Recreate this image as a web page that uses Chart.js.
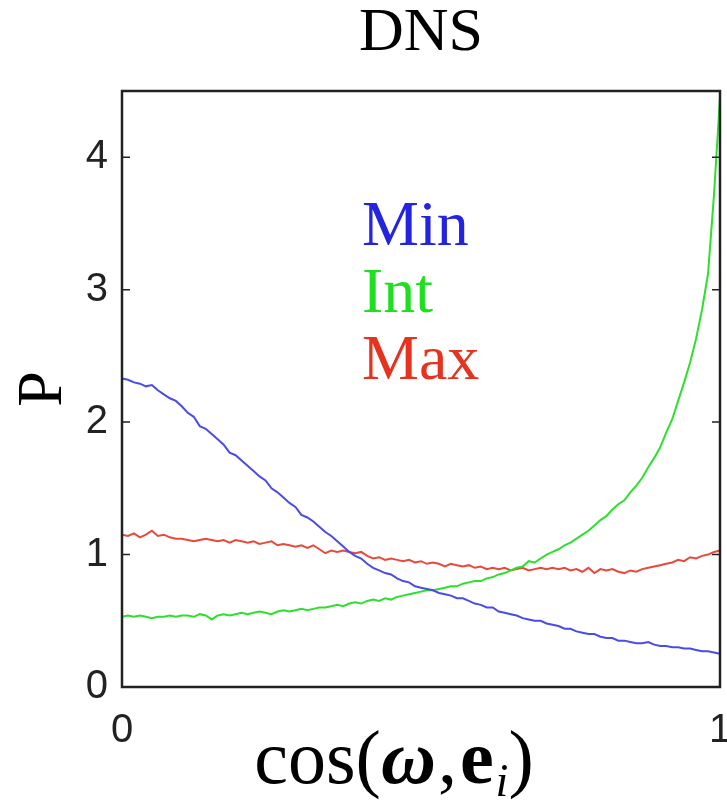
<!DOCTYPE html>
<html>
<head>
<meta charset="utf-8">
<script src="https://cdn.jsdelivr.net/npm/chart.js@4.4.1/dist/chart.umd.min.js"></script>
<style>
  html, body { margin: 0; padding: 0; background: #fff; }
  #wrap { width: 727px; height: 800px; }
</style>
</head>
<body>
<div id="wrap"><canvas id="chart" width="727" height="800"></canvas></div>
<script>
// cos(omega, e_i) sample positions
const cosValues = [
  0.00, 0.01, 0.02, 0.03, 0.04, 0.05, 0.06, 0.07, 0.08, 0.09,
  0.10, 0.11, 0.12, 0.13, 0.14, 0.15, 0.16, 0.17, 0.18, 0.19,
  0.20, 0.21, 0.22, 0.23, 0.24, 0.25, 0.26, 0.27, 0.28, 0.29,
  0.30, 0.31, 0.32, 0.33, 0.34, 0.35, 0.36, 0.37, 0.38, 0.39,
  0.40, 0.41, 0.42, 0.43, 0.44, 0.45, 0.46, 0.47, 0.48, 0.49,
  0.50, 0.51, 0.52, 0.53, 0.54, 0.55, 0.56, 0.57, 0.58, 0.59,
  0.60, 0.61, 0.62, 0.63, 0.64, 0.65, 0.66, 0.67, 0.68, 0.69,
  0.70, 0.71, 0.72, 0.73, 0.74, 0.75, 0.76, 0.77, 0.78, 0.79,
  0.80, 0.81, 0.82, 0.83, 0.84, 0.85, 0.86, 0.87, 0.88, 0.89,
  0.90, 0.91, 0.92, 0.93, 0.94, 0.95, 0.96, 0.97, 0.98, 0.99,
  1.00
];

const minValues = [
  2.33, 2.32, 2.30, 2.29, 2.27, 2.28, 2.24, 2.21, 2.18, 2.16,
  2.12, 2.07, 2.04, 1.97, 1.95, 1.91, 1.87, 1.83, 1.77, 1.75,
  1.71, 1.67, 1.63, 1.59, 1.56, 1.50, 1.47, 1.43, 1.39, 1.36,
  1.30, 1.28, 1.25, 1.21, 1.17, 1.14, 1.10, 1.06, 1.02, 0.99,
  0.97, 0.93, 0.90, 0.88, 0.86, 0.85, 0.82, 0.80, 0.79, 0.76,
  0.75, 0.74, 0.73, 0.71, 0.70, 0.69, 0.67, 0.67, 0.65, 0.63,
  0.62, 0.60, 0.60, 0.57, 0.56, 0.55, 0.54, 0.52, 0.51, 0.50,
  0.50, 0.48, 0.47, 0.46, 0.44, 0.44, 0.42, 0.41, 0.40, 0.40,
  0.38, 0.37, 0.37, 0.35, 0.35, 0.34, 0.33, 0.33, 0.34, 0.32,
  0.31, 0.31, 0.30, 0.30, 0.29, 0.29, 0.28, 0.27, 0.27, 0.26,
  0.25
];

const intValues = [
  0.53, 0.54, 0.53, 0.54, 0.53, 0.52, 0.53, 0.53, 0.54, 0.53,
  0.54, 0.54, 0.53, 0.55, 0.54, 0.51, 0.54, 0.55, 0.54, 0.55,
  0.56, 0.55, 0.56, 0.57, 0.56, 0.55, 0.57, 0.58, 0.57, 0.58,
  0.59, 0.58, 0.59, 0.60, 0.60, 0.61, 0.62, 0.61, 0.63, 0.64,
  0.63, 0.65, 0.66, 0.65, 0.67, 0.66, 0.68, 0.69, 0.70, 0.71,
  0.72, 0.73, 0.73, 0.74, 0.75, 0.76, 0.76, 0.78, 0.79, 0.80,
  0.80, 0.82, 0.83, 0.85, 0.86, 0.88, 0.90, 0.91, 0.95, 0.94,
  0.97, 1.00, 1.02, 1.04, 1.07, 1.09, 1.12, 1.15, 1.18, 1.22,
  1.26, 1.29, 1.34, 1.38, 1.41, 1.47, 1.52, 1.58, 1.66, 1.73,
  1.81, 1.92, 2.02, 2.16, 2.30, 2.45, 2.63, 2.85, 3.12, 3.72,
  4.45
];

const maxValues = [
  1.15, 1.14, 1.16, 1.13, 1.15, 1.18, 1.14, 1.15, 1.13, 1.12,
  1.12, 1.11, 1.10, 1.11, 1.12, 1.11, 1.10, 1.11, 1.09, 1.11,
  1.10, 1.09, 1.10, 1.08, 1.09, 1.10, 1.07, 1.08, 1.07, 1.06,
  1.07, 1.05, 1.07, 1.04, 1.01, 1.03, 1.02, 1.03, 1.02, 1.01,
  1.02, 0.99, 0.97, 0.98, 0.96, 0.97, 0.96, 0.95, 0.96, 0.94,
  0.95, 0.93, 0.94, 0.93, 0.91, 0.93, 0.92, 0.91, 0.92, 0.90,
  0.91, 0.89, 0.90, 0.89, 0.90, 0.88, 0.89, 0.90, 0.88, 0.89,
  0.90, 0.89, 0.90, 0.89, 0.90, 0.88, 0.89, 0.87, 0.90, 0.86,
  0.89, 0.88, 0.89, 0.87, 0.86, 0.88, 0.87, 0.89, 0.90, 0.91,
  0.92, 0.93, 0.94, 0.96, 0.95, 0.98, 0.97, 0.99, 1.00, 1.02,
  1.03
];

const seriesNames = ['Min', 'Int', 'Max'];
const lineColors = ['#4b4be6', '#2ee02e', '#e84a3a'];
const textColors = ['#2424e0', '#1fe01f', '#e5331f'];
const yTickValues = [0, 1, 2, 3, 4];
const xTickValues = [0, 1];

const SERIF = '"Liberation Serif", "Times New Roman", serif';
const SANS = '"Liberation Sans", Arial, sans-serif';

function toPoints(ys) {
  return cosValues.map((x, i) => ({ x: x, y: ys[i] }));
}

// frame with inward ticks, like the original figure
const framePlugin = {
  id: 'frame',
  afterDatasetsDraw(chart) {
    const { ctx, chartArea: a, scales } = chart;
    ctx.save();
    ctx.strokeStyle = '#222';
    ctx.lineWidth = 2.5;
    ctx.strokeRect(a.left, a.top, a.right - a.left, a.bottom - a.top);
    ctx.lineWidth = 1.5;
    yTickValues.forEach(v => {
      const y = scales.y.getPixelForValue(v);
      ctx.beginPath();
      ctx.moveTo(a.left, y); ctx.lineTo(a.left + 8, y);
      ctx.moveTo(a.right, y); ctx.lineTo(a.right - 8, y);
      ctx.stroke();
    });
    // x tick labels, drawn here so the "1" may run to the canvas edge
    ctx.fillStyle = '#222';
    ctx.font = '40px ' + SANS;
    ctx.textAlign = 'center';
    ctx.textBaseline = 'alphabetic';
    xTickValues.forEach(v => {
      ctx.fillText(String(v), scales.x.getPixelForValue(v), 742);
    });
    ctx.restore();
  }
};

// coloured series names inside the axes
const namesPlugin = {
  id: 'names',
  afterDraw(chart) {
    const { ctx, chartArea: a } = chart;
    ctx.save();
    ctx.font = '64px ' + SERIF;
    ctx.textBaseline = 'alphabetic';
    ctx.textAlign = 'left';
    chart.data.datasets.forEach((ds, i) => {
      ctx.fillStyle = textColors[i];
      ctx.fillText(ds.label, a.left + 240, 245 + i * 67);
    });
    ctx.restore();
  }
};

// x label cos(ω, e_i) with mixed styles
const xLabelPlugin = {
  id: 'xlabel',
  afterDraw(chart) {
    const { ctx } = chart;
    const parts = [
      { t: 'cos(', f: '76px ' + SERIF, dy: 0, gap: 0 },
      { t: 'ω', f: 'italic bold 76px ' + SERIF, dy: 0, gap: 2 },
      { t: ',', f: '76px ' + SERIF, dy: 0, gap: 3 },
      { t: 'e', f: 'bold 76px ' + SERIF, dy: 0, gap: 2 },
      { t: 'i', f: 'italic 46px ' + SERIF, dy: 13, gap: 0 },
      { t: ')', f: '76px ' + SERIF, dy: 0, gap: 14 }
    ];
    ctx.save();
    let total = 0;
    parts.forEach(p => { ctx.font = p.f; p.w = ctx.measureText(p.t).width; total += p.w + p.gap; });
    let x = 401 - total / 2;
    ctx.fillStyle = '#000';
    ctx.textBaseline = 'alphabetic';
    parts.forEach(p => {
      ctx.font = p.f;
      ctx.fillText(p.t, x, 783 + p.dy);
      x += p.w + p.gap;
    });
    ctx.restore();
  }
};

new Chart(document.getElementById('chart'), {
  type: 'line',
  data: {
    datasets: [
      { label: seriesNames[0], data: toPoints(minValues), borderColor: lineColors[0] },
      { label: seriesNames[1], data: toPoints(intValues), borderColor: lineColors[1] },
      { label: seriesNames[2], data: toPoints(maxValues), borderColor: lineColors[2] }
    ]
  },
  options: {
    responsive: false,
    animation: false,
    devicePixelRatio: 1,
    layout: { padding: { left: 0, right: 7, top: 0, bottom: 0 } },
    elements: {
      point: { radius: 0 },
      line: { borderWidth: 2, tension: 0 }
    },
    plugins: {
      legend: { display: false },
      tooltip: { enabled: false },
      title: {
        display: true,
        text: 'DNS',
        fullSize: false,
        color: '#000',
        font: { family: SERIF, size: 62, weight: 'normal', lineHeight: 1 },
        padding: { top: 3, bottom: 26 }
      }
    },
    scales: {
      x: {
        type: 'linear',
        min: 0,
        max: 1,
        grid: { display: false, drawTicks: false },
        border: { display: false },
        ticks: { display: false, stepSize: 1 },
        afterFit: s => { s.height = 113; }
      },
      y: {
        min: 0,
        max: 4.5,
        grid: { display: false, drawTicks: false },
        border: { display: false },
        ticks: {
          stepSize: 1,
          includeBounds: false,
          color: '#222',
          font: { family: SANS, size: 40 },
          padding: 14
        },
        title: {
          display: true,
          text: 'P',
          color: '#000',
          font: { family: SERIF, size: 64, weight: 'normal', lineHeight: 1.2 },
          padding: { top: 6, bottom: 0 }
        },
        afterFit: s => { s.width = 122; }
      }
    }
  },
  plugins: [framePlugin, namesPlugin, xLabelPlugin]
});
</script>
</body>
</html>
